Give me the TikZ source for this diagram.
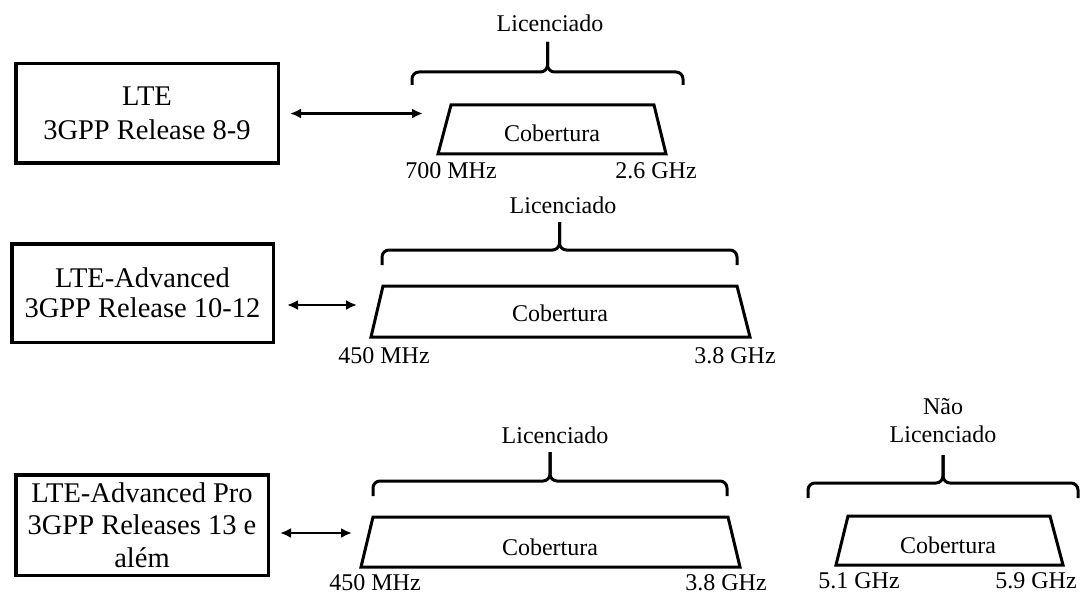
\documentclass[tikz,border=0pt]{standalone}
\usepackage{fontspec}
\setmainfont{Liberation Serif}
\usetikzlibrary{arrows.meta}
\begin{document}
\begin{tikzpicture}[x=1pt,y=-1pt,
  relbox/.style={draw, line width=3.5pt, align=center, inner sep=0pt},
  dbl/.style={line width=2.4pt, {Latex[length=11pt,width=10pt]}-{Latex[length=11pt,width=10pt]}},
  trap/.style={line width=3pt, line join=miter},
  brc/.style={line width=3pt, rounded corners=7pt},
  lbl/.style={inner sep=0pt, font=\fontsize{24}{28}\selectfont, align=center},
  cov/.style={inner sep=0pt, font=\fontsize{24}{28}\selectfont}
]
\useasboundingbox (0,0) rectangle (1083,596);

% Release boxes
\node[relbox, minimum width=262.5pt, minimum height=99.5pt,
      font=\fontsize{28.5}{34}\selectfont] (b1) at (147,113.5) {LTE\\3GPP Release 8-9};
\node[relbox, minimum width=261.5pt, minimum height=98.5pt,
      font=\fontsize{28.5}{30}\selectfont] (b2) at (142.5,293) {LTE-Advanced\\3GPP Release 10-12};
\node[relbox, minimum width=252.5pt, minimum height=100.5pt,
      font=\fontsize{28.5}{32.5}\selectfont] (b3) at (142,525) {LTE-Advanced Pro\\3GPP Releases 13 e\\além};

% arrow ends
\coordinate (e1) at (423,113.5);
\coordinate (e2) at (357,305);
\coordinate (e3) at (352,533);
\draw[dbl, shorten <=10pt] (b1.east) -- (e1);
\draw[dbl, shorten <=12pt] (b2.east |- e2) -- (e2);
\draw[dbl, shorten <=10pt] (b3.east |- e3) -- (e3);

% trapezoids
\draw[trap] (451,105) -- (654,105) -- (666,154) -- (438,154) -- cycle;
\draw[trap] (383,286) -- (737,286) -- (750,337) -- (371,337) -- cycle;
\draw[trap] (373,517) -- (728,517) -- (740,567) -- (361,567) -- cycle;
\draw[trap] (848,516) -- (1050,516) -- (1063,565) -- (836,565) -- cycle;

\node[cov] (c1) at (552,133) {Cobertura};
\node[cov] (c2) at (560,313) {Cobertura};
\node[cov] (c3) at (550,547) {Cobertura};
\node[cov] (c4) at (948,545) {Cobertura};

% frequency labels
\node[lbl] (f1a) at (451,171) {700 MHz};
\node[lbl] (f1b) at (656,171) {2.6 GHz};
\node[lbl] (f2a) at (384,356) {450 MHz};
\node[lbl] (f2b) at (735,356) {3.8 GHz};
\node[lbl] (f3a) at (375,583) {450 MHz};
\node[lbl] (f3b) at (726,583) {3.8 GHz};
\node[lbl] (f4a) at (859,581) {5.1 GHz};
\node[lbl] (f4b) at (1036,581) {5.9 GHz};

% braces
\draw[brc] (412,85) -- (412,72) -- (547.5,72) -- (547.5,42);
\draw[brc] (683,85) -- (683,72) -- (547.5,72) -- (547.5,42);
\draw[brc] (382,265) -- (382,250) -- (559.5,250) -- (559.5,222);
\draw[brc] (737,265) -- (737,250) -- (559.5,250) -- (559.5,222);
\draw[brc] (373,496) -- (373,481) -- (550,481) -- (550,452);
\draw[brc] (727,496) -- (727,481) -- (550,481) -- (550,452);
\draw[brc] (808,498) -- (808,483) -- (943,483) -- (943,455);
\draw[brc] (1078,498) -- (1078,483) -- (943,483) -- (943,455);

% brace labels
\node[lbl] (l1) at (550,23) {Licenciado};
\node[lbl] (l2) at (563,205) {Licenciado};
\node[lbl] (l3) at (555,435) {Licenciado};
\node[lbl] (l4) at (943,421) {Não\\Licenciado};
\end{tikzpicture}
\end{document}
